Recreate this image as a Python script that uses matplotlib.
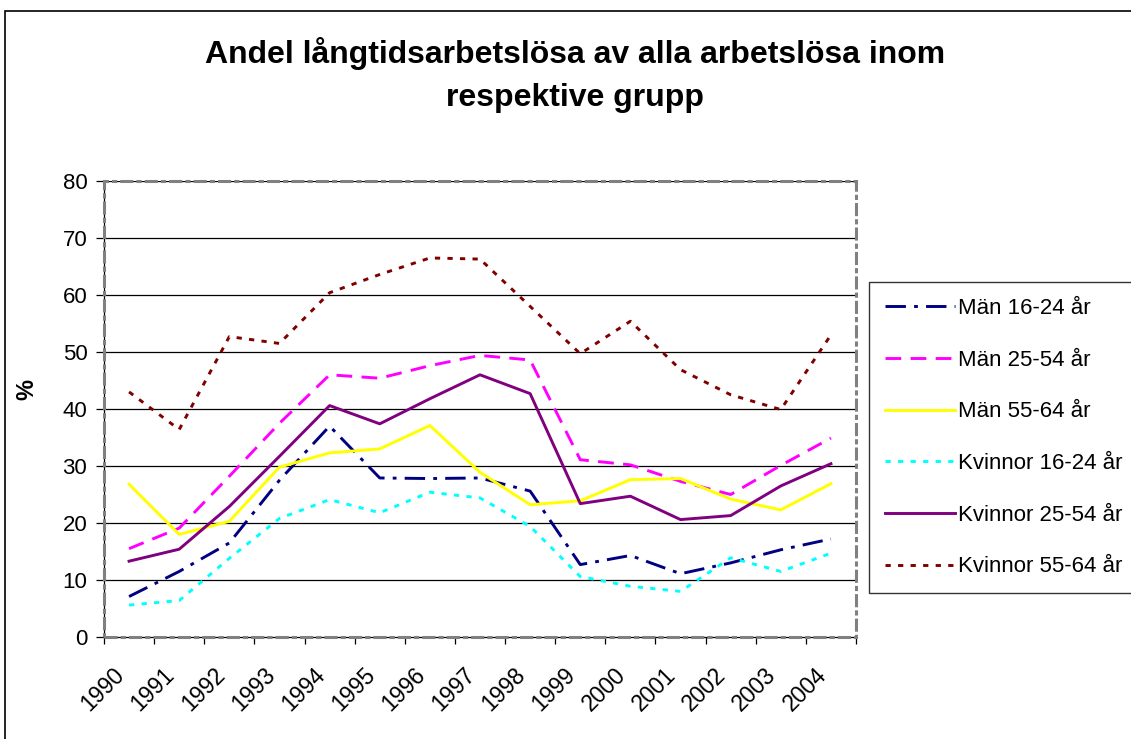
"""
Andel långtidsarbetslösa av alla arbetslösa inom respektive grupp, 1990-2004.
Excel-style line chart recreated with matplotlib.
"""

import matplotlib
matplotlib.use("Agg")
import matplotlib.pyplot as plt
from matplotlib.patches import Rectangle

plt.rcParams["font.family"] = ["Liberation Sans", "DejaVu Sans"]

YEARS = [str(y) for y in range(1990, 2005)]

MAN_16_24 = [7.1, 11.5, 16.5, 27.5, 37.0, 27.9, 27.8, 27.9, 25.6, 12.7, 14.3, 11.1, 13.0, 15.3, 17.2]
MAN_25_54 = [15.5, 19.1, 28.2, 37.5, 46.0, 45.4, 47.6, 49.4, 48.6, 31.1, 30.2, 27.3, 25.0, 30.1, 34.9]
MAN_55_64 = [26.8, 18.0, 20.3, 29.8, 32.3, 33.0, 37.1, 28.9, 23.2, 23.9, 27.6, 27.8, 24.2, 22.3, 26.9]
KV_16_24 = [5.6, 6.4, 13.8, 20.8, 24.1, 21.8, 25.4, 24.4, 19.4, 10.6, 8.9, 8.0, 13.9, 11.5, 14.7]
KV_25_54 = [13.3, 15.4, 22.9, 31.7, 40.6, 37.4, 41.8, 46.0, 42.7, 23.4, 24.7, 20.6, 21.3, 26.5, 30.4]
KV_55_64 = [43.0, 36.4, 52.7, 51.5, 60.4, 63.6, 66.5, 66.3, 58.0, 49.7, 55.4, 46.9, 42.5, 39.9, 53.0]

SERIES = [
    ("Män 16-24 år", MAN_16_24, "#000080", (0, (7, 2.8, 1.3, 2.8))),
    ("Män 25-54 år", MAN_25_54, "#FF00FF", (0, (5.4, 3.2))),
    ("Män 55-64 år", MAN_55_64, "#FFFF00", "-"),
    ("Kvinnor 16-24 år", KV_16_24, "#00FFFF", (0, (1.8, 2.5))),
    ("Kvinnor 25-54 år", KV_25_54, "#800080", "-"),
    ("Kvinnor 55-64 år", KV_55_64, "#800000", (0, (1.8, 2.5))),
]

W, H = 1131, 739


def main():
    fig = plt.figure(figsize=(W / 100, H / 100), dpi=100)
    ax = fig.add_axes([104 / W, 1 - 637 / H, (856 - 104) / W, (637 - 181) / H])

    x = range(len(YEARS))
    for label, vals, color, ls in SERIES:
        ax.plot(x, vals, color=color, linestyle=ls, lw=2.1, label=label,
                dash_capstyle="butt", zorder=3)

    ax.set_xlim(-0.5, len(YEARS) - 0.5)
    ax.set_ylim(0, 80)
    ax.set_yticks(range(0, 81, 10))
    for v in range(10, 81, 10):
        ax.axhline(v, color="black", lw=0.9, zorder=1)

    # category labels at centres, tick marks on boundaries (Excel style)
    ax.set_xticks(list(x))
    ax.set_xticklabels(YEARS, rotation=45, ha="right", fontsize=16.5)
    ax.set_xticks([i - 0.5 for i in range(len(YEARS) + 1)], minor=True)
    ax.tick_params(axis="x", which="major", length=0, pad=19)
    ax.tick_params(axis="x", which="minor", length=5, width=0.9, direction="out")
    ax.tick_params(axis="y", length=6, width=0.9, pad=6, labelsize=16)

    for side in ("top", "right"):
        ax.spines[side].set_visible(False)
    for side in ("left", "bottom"):
        ax.spines[side].set_color("black")
        ax.spines[side].set_linewidth(0.9)

    # grey dashed plot-area border
    ax.add_patch(Rectangle((0, 0), 1, 1, transform=ax.transAxes, fill=False,
                           edgecolor="#808080", lw=2.2,
                           linestyle=(0, (4.3, 1.0, 1.7, 1.0)),
                           clip_on=False, zorder=4))

    ax.set_ylabel("%", fontsize=17, fontweight="bold", va="center")
    ax.yaxis.set_label_coords((27 - 104) / (856 - 104), (637 - 389) / (637 - 181))

    fig.text(575 / W, 1 - 63 / H, "Andel långtidsarbetslösa av alla arbetslösa inom",
             ha="center", va="baseline", fontsize=23, fontweight="bold")
    fig.text(575 / W, 1 - 106 / H, "respektive grupp",
             ha="center", va="baseline", fontsize=23, fontweight="bold")

    leg = fig.legend(loc="upper left", bbox_to_anchor=(869 / W, 1 - 282 / H),
                     borderaxespad=0, fontsize=16, handlelength=3.15,
                     handletextpad=0.15, labelspacing=1.38, borderpad=0.72,
                     frameon=True, fancybox=False)
    leg.get_frame().set_edgecolor("black")
    leg.get_frame().set_linewidth(1.0)

    # outer chart-area frame
    fig.add_artist(Rectangle((5 / W, -0.05), 1.05, 1 - 10.5 / H + 0.05,
                             transform=fig.transFigure, fill=False,
                             edgecolor="black", lw=1.2))

    fig.savefig("out.png", dpi=100)
    plt.close(fig)


if __name__ == "__main__":
    main()
